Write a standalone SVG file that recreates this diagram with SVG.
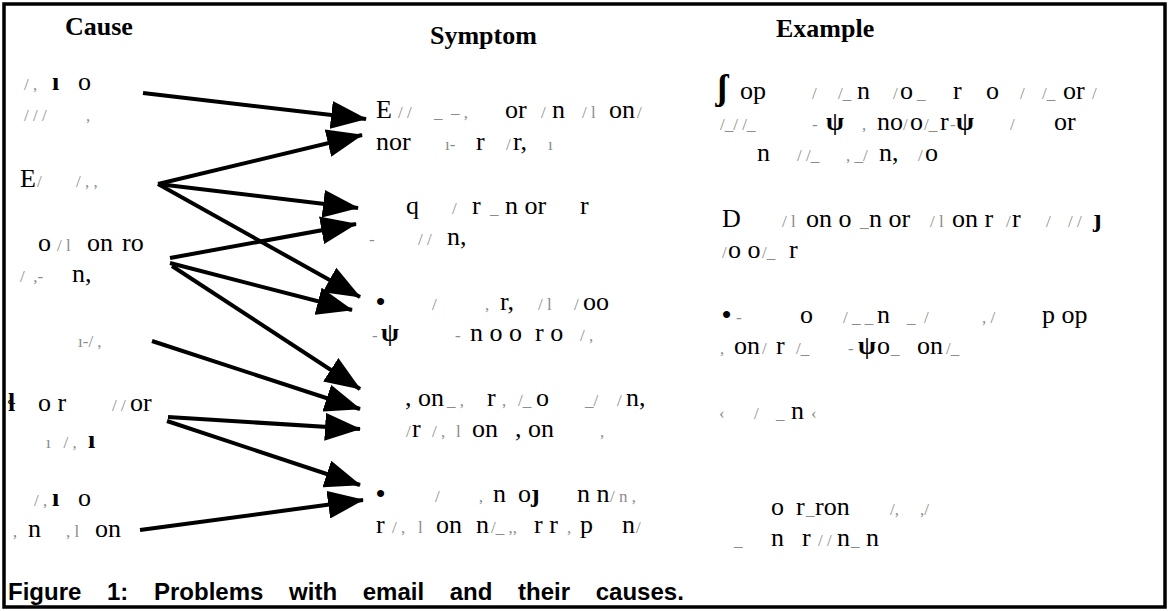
<svg xmlns="http://www.w3.org/2000/svg" width="1169" height="611" viewBox="0 0 1169 611">
<style>
.bd{fill:none;stroke:#000;stroke-width:3.5}
.h{font-family:"Liberation Serif","Times New Roman",serif;font-size:26px;font-weight:bold;fill:#000}
.t{font-family:"Liberation Serif","Times New Roman",serif;font-size:26px;fill:#000;white-space:pre}
.f{fill:#8c8c8c;font-size:17px}
.k{font-weight:bold}
.cap{font-family:"Liberation Sans",Arial,sans-serif;font-size:24px;font-weight:bold;word-spacing:19px;fill:#000}
.a{fill:none;stroke:#000;stroke-width:4;marker-end:url(#ah)}
</style>
<defs>
<marker id="ah" markerUnits="userSpaceOnUse" viewBox="0 0 36 28" markerWidth="36" markerHeight="28" refX="35" refY="14" orient="auto"><path d="M0,0 L36,14 L0,28 Z" fill="#000"/></marker>
</defs>
<rect class="bd" x="4" y="4" width="1161" height="603"/>
<g id="headers">
<text class="h" x="65" y="35">Cause</text>
<text class="h" x="430" y="44">Symptom</text>
<text class="h" x="776" y="37">Example</text>
</g>
<g id="connectors">
<path class="a" d="M143,93 L366,119"/>
<path class="a" d="M158,184 L362,135"/>
<path class="a" d="M158,184 L358,208"/>
<path class="a" d="M158,184 L360,297"/>
<path class="a" d="M170,258 L356,224"/>
<path class="a" d="M170,263 L352,310"/>
<path class="a" d="M172,266 L360,389"/>
<path class="a" d="M152,341 L360,409"/>
<path class="a" d="M168,417 L360,429"/>
<path class="a" d="M167,421 L360,485"/>
<path class="a" d="M140,530 L363,500"/>
</g>
<g id="cause1"><text class="t" y="90"><tspan class="f" x="24">/ ,</tspan><tspan class="k" x="52">ı</tspan><tspan x="78">o</tspan></text><text class="t" y="121"><tspan class="f" x="24">/ / /</tspan><tspan class="f" x="86">,</tspan></text></g>
<g id="cause2"><text class="t" y="187"><tspan x="20">E</tspan><tspan class="f" x="37">/</tspan><tspan class="f" x="76">/ , ,</tspan></text></g>
<g id="cause3"><text class="t" y="251"><tspan x="38">o</tspan><tspan class="f" x="57">/ l</tspan><tspan x="87">on</tspan><tspan x="122">ro</tspan></text><text class="t" y="282"><tspan class="f" x="20">/  ,-</tspan><tspan x="72">n,</tspan></text></g>
<g id="cause4"><text class="t" y="347"><tspan class="f" x="78">ı-/ ,</tspan></text></g>
<g id="cause5"><text class="t" y="411"><tspan class="k" x="8">ɬ</tspan><tspan x="38">o r</tspan><tspan class="f" x="112">/ /</tspan><tspan x="130">or</tspan></text><text class="t" y="448"><tspan class="f" x="46">ı   / ,</tspan><tspan class="k" x="88">ı</tspan></text></g>
<g id="cause6"><text class="t" y="506"><tspan class="f" x="34">/ ,</tspan><tspan class="k" x="52">ı</tspan><tspan x="78">o</tspan></text><text class="t" y="537"><tspan class="f" x="12">‚</tspan><tspan x="28">n</tspan><tspan class="f" x="66">, l</tspan><tspan x="95">on</tspan></text></g>
<g id="symptom1"><text class="t" y="118"><tspan x="376">E</tspan><tspan class="f" x="398">/ /</tspan><tspan class="f" x="434">_  ‒ ,</tspan><tspan x="505">or</tspan><tspan class="f" x="541">/</tspan><tspan x="552">n</tspan><tspan class="f" x="582">/ l</tspan><tspan x="609">on</tspan><tspan class="f" x="637">/</tspan></text><text class="t" y="150"><tspan x="376">nor</tspan><tspan class="f" x="445">ı-</tspan><tspan x="476">r</tspan><tspan class="f" x="506">/</tspan><tspan x="513">r,</tspan><tspan class="f" x="548">ı</tspan></text></g>
<g id="symptom2"><text class="t" y="214"><tspan x="406">q</tspan><tspan class="f" x="452">/</tspan><tspan x="472">r</tspan><tspan class="f" x="490">_</tspan><tspan x="505">n or</tspan><tspan x="580">r</tspan></text><text class="t" y="245"><tspan class="f" x="369">-</tspan><tspan class="f" x="418">/ /</tspan><tspan x="447">n,</tspan></text></g>
<g id="symptom3"><text class="t" y="310"><tspan class="k" x="376">•</tspan><tspan class="f" x="432">/</tspan><tspan class="f" x="485">,</tspan><tspan x="500">r,</tspan><tspan class="f" x="538">/ l</tspan><tspan class="f" x="574">/</tspan><tspan x="583">oo</tspan></text><text class="t" y="341"><tspan class="f" x="372">-</tspan><tspan class="k" x="381">ψ</tspan><tspan class="f" x="455">-</tspan><tspan x="470">n o o  r o</tspan><tspan class="f" x="580">/ ,</tspan></text></g>
<g id="symptom4"><text class="t" y="406"><tspan x="405">, on</tspan><tspan class="f" x="447">_ ,</tspan><tspan x="487">r</tspan><tspan class="f" x="502">,</tspan><tspan class="f" x="518">/_</tspan><tspan x="536">o</tspan><tspan class="f" x="585">_/</tspan><tspan class="f" x="617">/</tspan><tspan x="626">n,</tspan></text><text class="t" y="437"><tspan class="f" x="406">/</tspan><tspan x="412">r</tspan><tspan class="f" x="432">/ ,</tspan><tspan class="f" x="456">l</tspan><tspan x="472">on</tspan><tspan x="515">, on</tspan><tspan class="f" x="600">,</tspan></text></g>
<g id="symptom5"><text class="t" y="502"><tspan class="k" x="376">•</tspan><tspan class="f" x="435">/</tspan><tspan class="f" x="478">‚</tspan><tspan x="493">n</tspan><tspan x="518">o</tspan><tspan class="k" x="531">ȷ</tspan><tspan x="577">n n</tspan><tspan class="f" x="610">/ n ,</tspan></text><text class="t" y="533"><tspan x="376">r</tspan><tspan class="f" x="392">/ ,</tspan><tspan class="f" x="418">l</tspan><tspan x="436">on</tspan><tspan x="476">n</tspan><tspan class="f" x="491">/_ ,,</tspan><tspan x="534">r r</tspan><tspan class="f" x="567">,</tspan><tspan x="580">p</tspan><tspan x="622">n</tspan><tspan class="f" x="636">/</tspan></text></g>
<g id="example1"><text class="t" y="99"><tspan class="k" x="717" style="font-size:35px">ʃ</tspan><tspan x="740">op</tspan><tspan class="f" x="812">/</tspan><tspan class="f" x="838">/_</tspan><tspan x="857">n</tspan><tspan class="f" x="893">/</tspan><tspan x="900">o</tspan><tspan class="f" x="917">_</tspan><tspan x="953">r</tspan><tspan x="986">o</tspan><tspan class="f" x="1020">/</tspan><tspan class="f" x="1042">/_</tspan><tspan x="1063">or</tspan><tspan class="f" x="1092">/</tspan></text><text class="t" y="130"><tspan class="f" x="720">/_/ /_</tspan><tspan class="f" x="812">-</tspan><tspan class="k" x="826">ψ</tspan><tspan class="f" x="862">,</tspan><tspan x="877">no</tspan><tspan class="f" x="903">/</tspan><tspan x="910">o</tspan><tspan class="f" x="924">/_</tspan><tspan x="940">r</tspan><tspan class="f" x="950">-</tspan><tspan class="k" x="956">ψ</tspan><tspan class="f" x="1010">/</tspan><tspan x="1054">or</tspan></text><text class="t" y="161"><tspan x="757">n</tspan><tspan class="f" x="797">/ /_</tspan><tspan class="f" x="846">, _/</tspan><tspan x="879">n,</tspan><tspan class="f" x="918">/</tspan><tspan x="925">o</tspan></text></g>
<g id="example2"><text class="t" y="227"><tspan x="722">D</tspan><tspan class="f" x="782">/ l</tspan><tspan x="806">on o</tspan><tspan class="f" x="860">_</tspan><tspan x="869">n or</tspan><tspan class="f" x="930">/ l</tspan><tspan x="952">on r</tspan><tspan class="f" x="1006">/</tspan><tspan x="1012">r</tspan><tspan class="f" x="1046">/</tspan><tspan class="f" x="1068">/ /</tspan><tspan class="k" x="1093">ȷ</tspan></text><text class="t" y="258"><tspan class="f" x="722">/</tspan><tspan x="728">o o</tspan><tspan class="f" x="762">/_</tspan><tspan x="789">r</tspan></text></g>
<g id="example3"><text class="t" y="323"><tspan class="k" x="722">•</tspan><tspan class="f" x="736">-</tspan><tspan x="800">o</tspan><tspan class="f" x="843">/ _ _</tspan><tspan x="877">n</tspan><tspan class="f" x="907">_  /</tspan><tspan class="f" x="982">, /</tspan><tspan x="1042">p op</tspan></text><text class="t" y="354"><tspan class="f" x="720">,</tspan><tspan x="734">on</tspan><tspan class="f" x="762">/</tspan><tspan x="776">r</tspan><tspan class="f" x="796">/_</tspan><tspan class="f" x="848">-</tspan><tspan class="k" x="858">ψ</tspan><tspan x="877">o</tspan><tspan class="f" x="891">_</tspan><tspan x="917">on</tspan><tspan class="f" x="946">/_</tspan></text></g>
<g id="example4"><text class="t" y="419"><tspan class="f" x="719">‹</tspan><tspan class="f" x="754">/</tspan><tspan class="f" x="776">_</tspan><tspan x="791">n</tspan><tspan class="f" x="811">‹</tspan></text></g>
<g id="example5"><text class="t" y="515"><tspan x="771">o</tspan><tspan x="796">r</tspan><tspan class="f" x="806">_</tspan><tspan x="815">ron</tspan><tspan class="f" x="890">/,</tspan><tspan class="f" x="920">,/</tspan></text><text class="t" y="546"><tspan class="f" x="734">_</tspan><tspan x="771">n</tspan><tspan x="802">r</tspan><tspan class="f" x="818">/ /</tspan><tspan x="837">n</tspan><tspan class="f" x="851">_</tspan><tspan x="866">n</tspan></text></g>
<g id="caption"><text class="cap" x="8" y="600">Figure 1: Problems with email and their causes.</text></g>
</svg>
